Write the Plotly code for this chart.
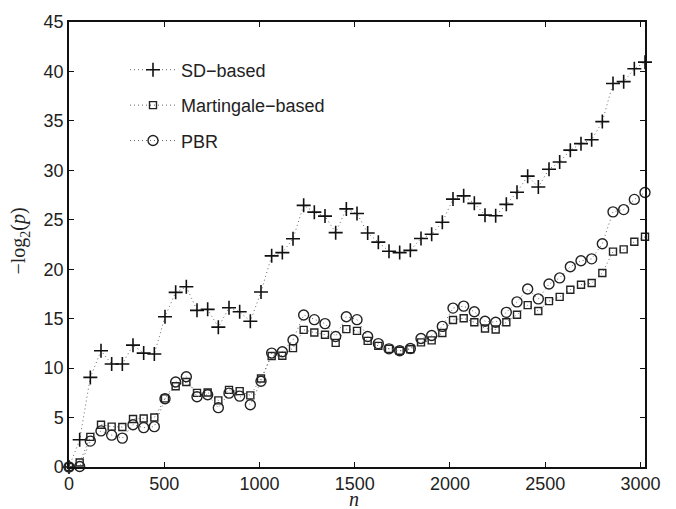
import plotly.graph_objects as go

step = 56
n_vals = [step * k for k in range(55)]

sd_based = [0, 2.76, 9.06, 11.75, 10.42, 10.42, 12.32, 11.52, 11.42, 15.2,
            17.66, 18.23, 15.84, 15.94, 14.14, 16.1, 15.7, 14.74, 17.7, 21.35,
            21.68, 23.08, 26.46, 25.77, 25.37, 23.7, 26.1, 25.63, 23.67, 22.74,
            21.81, 21.68, 21.91, 23.1, 23.54, 24.75, 27.09, 27.42, 26.66, 25.47,
            25.4, 26.56, 27.79, 29.41, 28.32, 30.11, 30.85, 32.04, 32.7, 33.1,
            34.93, 38.78, 38.97, 40.27, 40.94]

martingale = [0, 0.45, 3.05, 4.28, 4.08, 4.05, 4.85, 4.91, 5.0, 6.94,
              8.17, 8.6, 7.5, 7.54, 6.74, 7.8, 7.67, 7.24, 8.95, 11.22,
              11.25, 12.02, 13.87, 13.6, 13.38, 12.55, 13.94, 13.77, 12.75, 12.25,
              11.95, 11.75, 11.9, 12.6, 12.8, 13.55, 14.87, 15.04, 14.64, 14.01,
              13.91, 14.64, 15.4, 16.37, 15.77, 16.77, 17.2, 17.93, 18.43, 18.6,
              19.62, 21.78, 22.01, 22.78, 23.28]

pbr = [0, 0.05, 2.62, 3.65, 3.22, 2.92, 4.28, 3.98, 4.08, 6.9,
       8.6, 9.13, 7.1, 7.3, 6.0, 7.47, 7.17, 6.3, 8.67, 11.52,
       11.65, 12.85, 15.37, 14.9, 14.5, 13.2, 15.2, 14.9, 13.2, 12.48,
       11.95, 11.75, 11.98, 13.0, 13.3, 14.22, 16.07, 16.27, 15.7, 14.74,
       14.64, 15.64, 16.7, 18.0, 17.0, 18.5, 19.12, 20.25, 20.85, 21.05,
       22.58, 25.8, 26.03, 27.06, 27.76]

series_names = ["SD\u2212based", "Martingale\u2212based", "PBR"]
x_ticks = [0, 500, 1000, 1500, 2000, 2500, 3000]
y_ticks = [0, 5, 10, 15, 20, 25, 30, 35, 40, 45]

line_style = dict(color="#666666", width=1, dash="1px,3px")

fig = go.Figure()
fig.add_trace(go.Scatter(
    x=n_vals, y=sd_based, name=series_names[0], mode="lines+markers",
    line=line_style, legendgroup="a",
    marker=dict(symbol="cross-thin-open", size=10, color="#111",
                line=dict(width=1.6, color="#111")),
    cliponaxis=False))
fig.add_trace(go.Scatter(
    x=n_vals, y=martingale, name=series_names[1], mode="lines+markers",
    line=line_style, legendgroup="b",
    marker=dict(symbol="square-open", size=7, color="#222",
                line=dict(width=1.4, color="#222")),
    cliponaxis=False))
fig.add_trace(go.Scatter(
    x=n_vals, y=pbr, name=series_names[2], mode="lines+markers",
    line=line_style, legendgroup="c",
    marker=dict(symbol="circle-open", size=10, color="#222",
                line=dict(width=1.4, color="#222")),
    cliponaxis=False))

axis_common = dict(
    showline=True, linecolor="#111", linewidth=1.5, mirror="ticks",
    ticks="inside", ticklen=5, tickwidth=1, tickcolor="#111",
    showgrid=False, zeroline=False,
    tickfont=dict(family="Liberation Sans, Arial", size=18, color="#222"),
)

fig.update_xaxes(range=[0, 3024], tickvals=x_ticks, **axis_common)
fig.update_yaxes(range=[0, 45], tickvals=y_ticks, **axis_common)

# plot area in window pixels: x 69..645, y 15..467
fig.add_annotation(
    text="\u2212log<sub>2</sub>(<i>p</i>)", xref="paper", yref="paper",
    x=(20 - 69) / 576, y=(467 - 238) / 452, textangle=-90, showarrow=False,
    xanchor="center", yanchor="middle",
    font=dict(family="Liberation Serif, Times New Roman", size=20, color="#222"))
fig.add_annotation(
    text="<i>n</i>", xref="paper", yref="paper",
    x=(354 - 69) / 576, y=(467 - 500) / 452, showarrow=False,
    xanchor="center", yanchor="middle",
    font=dict(family="Liberation Serif, Times New Roman", size=20, color="#222"))

fig.update_layout(
    width=676, height=509,
    margin=dict(l=69, r=31, t=15, b=42),
    plot_bgcolor="white", paper_bgcolor="white",
    showlegend=True,
    legend=dict(x=(125 - 69) / 576, y=(467 - 45) / 452, xanchor="left", yanchor="top",
                bgcolor="rgba(0,0,0,0)", borderwidth=0, tracegroupgap=9,
                itemwidth=46,
                font=dict(family="Liberation Sans, Arial", size=18, color="#222")),
)

fig.write_html(
    "out.html",
    config={"displayModeBar": False},
    post_script="document.body.style.margin='0';document.body.style.overflow='hidden';",
)
